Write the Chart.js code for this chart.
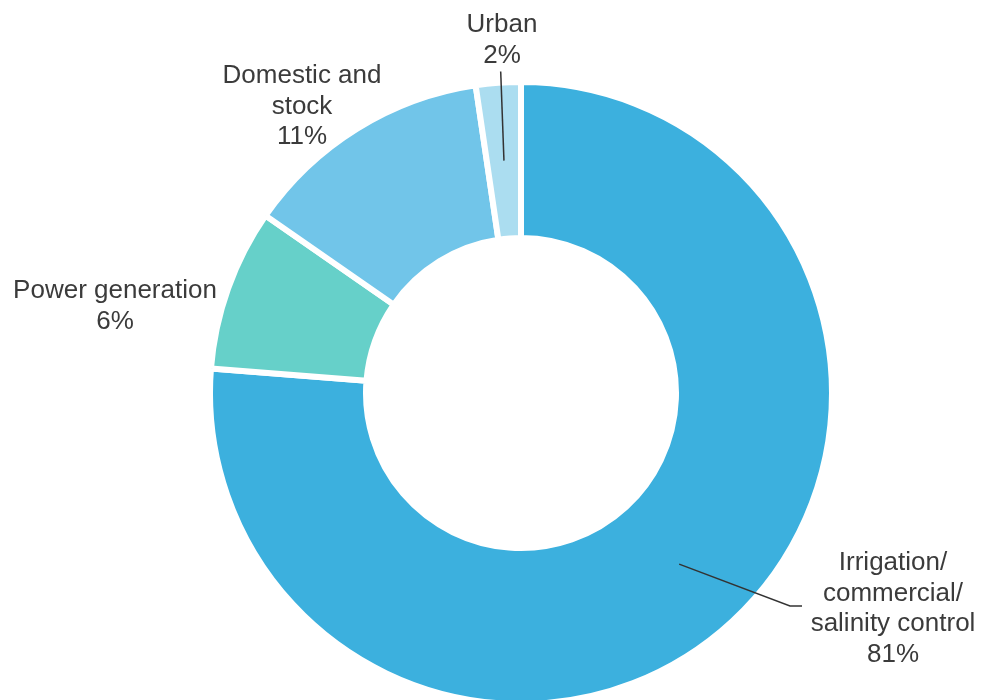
<!DOCTYPE html>
<html>
<head>
<meta charset="utf-8">
<script src="https://cdn.jsdelivr.net/npm/chart.js@4"></script>
<style>
  html, body { margin: 0; padding: 0; background: #ffffff; overflow: hidden; }
  #wrap { width: 981px; height: 700px; position: relative; }
</style>
</head>
<body>
<div id="wrap"><canvas id="c" width="981" height="700"></canvas></div>
<script>
// ---- Data ----
const categories = ['Irrigation/ commercial/ salinity control', 'Power generation', 'Domestic and stock', 'Urban'];
// arc sizes as drawn in the picture (share of the ring, %)
const arcValues = [76.25, 8.41, 13.01, 2.33];
// percentages printed in the labels
const labelPercents = ['81%', '6%', '11%', '2%'];
const labelLines = [
  ['Irrigation/', 'commercial/', 'salinity control'],
  ['Power generation'],
  ['Domestic and', 'stock'],
  ['Urban']
];
const colors = ['#3cb0de', '#66d0c9', '#71c5e9', '#abddf0'];

// ---- Label layout (positions of text blocks) ----
const labelLayout = [
  { x: 893, y: 570 },   // first baseline
  { x: 115, y: 298 },
  { x: 302, y: 83 },
  { x: 502, y: 32 }
];
const lineHeight = 30.5;

const labelPlugin = {
  id: 'labels',
  afterDatasetsDraw(chart) {
    const ctx = chart.ctx;
    const meta = chart.getDatasetMeta(0);
    ctx.save();
    // leader lines
    ctx.strokeStyle = '#333333';
    ctx.lineWidth = 1.5;
    const p0 = meta.data[0].tooltipPosition();
    ctx.beginPath();
    ctx.moveTo(p0.x, p0.y);
    ctx.lineTo(790, 606);
    ctx.lineTo(802, 606);
    ctx.stroke();
    const p3 = meta.data[3].tooltipPosition();
    ctx.beginPath();
    ctx.moveTo(p3.x, p3.y);
    ctx.lineTo(500.7, 71.5);
    ctx.stroke();
    // text
    ctx.fillStyle = '#3b3b3b';
    ctx.font = '26px "Liberation Sans", Arial, sans-serif';
    ctx.textAlign = 'center';
    ctx.textBaseline = 'alphabetic';
    labelLines.forEach((lines, i) => {
      const all = lines.concat([labelPercents[i]]);
      all.forEach((t, j) => {
        ctx.fillText(t, labelLayout[i].x, labelLayout[i].y + j * lineHeight);
      });
    });
    ctx.restore();
  }
};

new Chart(document.getElementById('c'), {
  type: 'doughnut',
  data: {
    labels: categories,
    datasets: [{
      data: arcValues,
      backgroundColor: colors,
      borderColor: '#ffffff',
      borderWidth: 6,
      hoverOffset: 0,
      clip: false
    }]
  },
  options: {
    responsive: false,
    animation: false,
    radius: 311,
    cutout: '49.84%',
    rotation: 0,
    layout: { padding: { left: 61, right: 0, top: 86, bottom: 0 } },
    plugins: {
      legend: { display: false },
      tooltip: { enabled: false }
    }
  },
  plugins: [labelPlugin]
});
</script>
</body>
</html>
